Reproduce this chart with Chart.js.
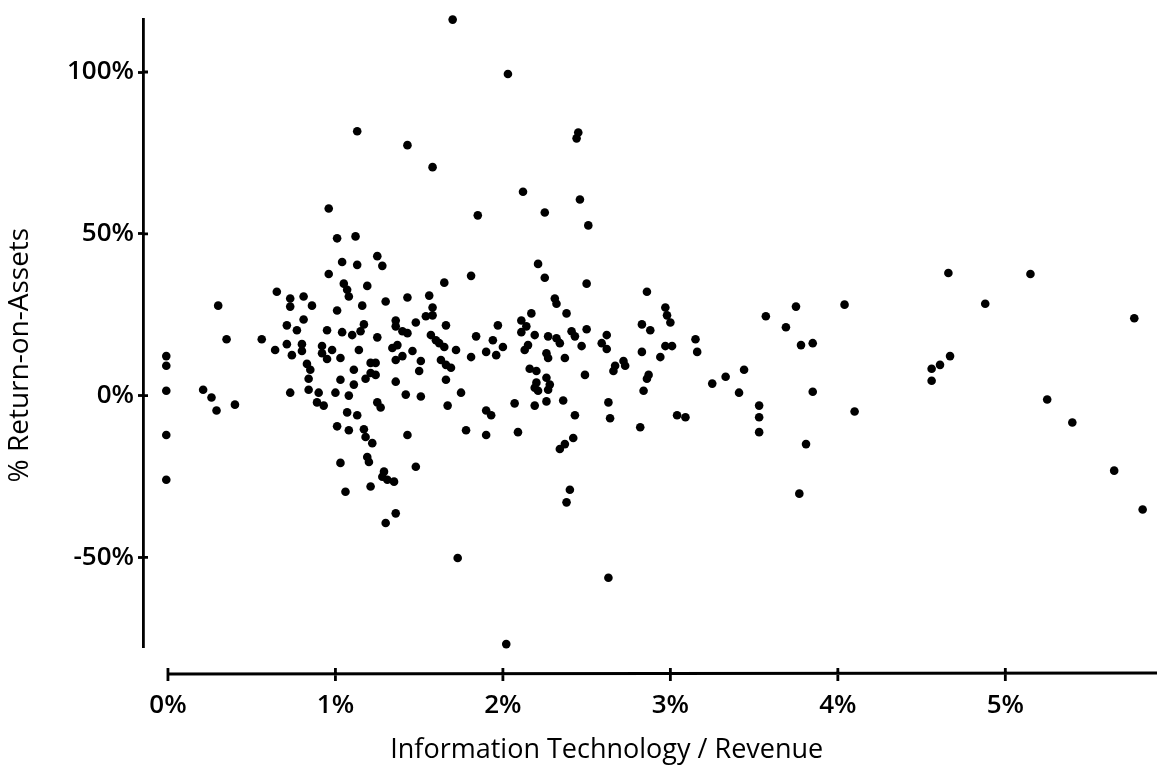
<!DOCTYPE html>
<html>
<head>
<meta charset="utf-8">
<script src="https://cdn.jsdelivr.net/npm/chart.js@4.4.1/dist/chart.umd.min.js"></script>
<style>
  html, body { margin: 0; padding: 0; background: #fff; }
</style>
</head>
<body>
<canvas id="chart" width="1157" height="776"></canvas>
<script>
// IT spend as % of revenue (x) and return on assets in % (y) in bands
const lowItX = [-0.01, -0.01, -0.01, -0.01, -0.01, 0.21, 0.26, 0.29, 0.40, 0.30, 0.35, 0.56, 0.64, 0.65, 0.73, 0.73, 0.81, 0.86, 0.81, 0.71,
  0.77, 0.71, 0.80, 0.80, 0.74, 0.83, 0.85, 0.84, 0.73, 0.84, 0.90, 0.89, 0.93, 0.96, 0.95, 0.92, 0.92, 0.95, 0.98, 0.96];
const lowItY = [12.2, 9.2, 1.5, -12.2, -26.0, 1.8, -0.6, -4.6, -2.8, 27.8, 17.4, 17.4, 14.1, 32.1, 30.0, 27.5, 30.6, 27.8, 23.5, 21.7,
  20.2, 15.9, 15.9, 13.8, 12.5, 9.8, 8.0, 5.2, 0.9, 1.8, 0.9, -2.1, -3.1, 37.6, 20.2, 15.3, 13.1, 11.3, 14.1, 57.8];

const midItX = [1.04, 1.13, 1.25, 1.28, 1.05, 1.07, 1.08, 1.19, 1.01, 1.16, 1.30, 1.04, 1.10, 1.17, 1.15, 1.03, 1.14, 1.25, 1.11, 1.03,
  1.11, 1.21, 1.24, 1.21, 1.24, 1.18, 1.00, 1.08, 1.07, 1.13, 1.01, 1.08, 1.17, 1.18, 1.22, 1.25, 1.27, 1.36, 1.36, 1.40,
  1.43, 1.48, 1.54, 1.58, 1.58, 1.34, 1.37, 1.36, 1.40, 1.46, 1.51, 1.50, 1.43, 1.56, 1.65, 1.81, 1.66, 1.57, 1.60, 1.62,
  1.65, 1.63, 1.66, 1.69, 1.72, 1.66, 1.36, 1.42, 1.51, 1.67, 1.75, 1.81, 1.84, 1.90, 1.96, 1.94, 1.97, 1.90, 1.93, 1.78,
  1.90, 1.43, 1.19, 1.20, 1.03, 1.48, 1.29, 1.28, 1.31, 1.35, 1.06, 1.21, 1.36, 1.30, 1.73, 1.70, 1.13, 1.43, 1.58, 1.85,
  1.01, 1.12];
const midItY = [41.3, 40.4, 43.1, 40.1, 34.6, 32.7, 30.6, 33.9, 26.3, 27.8, 29.1, 19.6, 18.7, 22.0, 19.9, 11.6, 14.1, 18.0, 8.0, 4.9,
  3.4, 10.1, 10.1, 7.0, 6.4, 5.2, 0.9, 0.0, -5.2, -6.1, -9.5, -10.7, -10.4, -12.8, -14.7, -2.1, -3.7, 23.2, 21.4, 19.9,
  19.3, 22.6, 24.5, 27.2, 24.8, 14.7, 15.6, 11.0, 12.2, 13.8, 10.7, 7.6, 30.3, 30.9, 34.9, 37.0, 21.7, 18.7, 17.1, 16.2,
  15.0, 11.0, 9.5, 8.6, 14.1, 4.9, 4.3, 0.3, -0.3, -3.1, 0.9, 11.9, 18.3, 13.5, 12.5, 17.1, 21.7, -4.6, -6.1, -10.7,
  -12.2, -12.2, -19.0, -20.5, -20.8, -22.0, -23.5, -25.1, -26.0, -26.6, -29.7, -28.1, -36.4, -39.4, -50.2, 116.2, 81.7, 77.4, 70.6, 55.7,
  48.6, 49.2];

const highItX = [2.03, 2.45, 2.44, 2.12, 2.46, 2.25, 2.51, 2.21, 2.25, 2.50, 2.86, 2.31, 2.32, 2.17, 2.38, 2.97, 2.98, 2.83, 2.88, 2.11,
  2.14, 2.11, 2.50, 2.00, 2.19, 2.15, 2.13, 2.27, 2.32, 2.34, 2.41, 2.43, 2.47, 2.59, 2.62, 2.62, 2.26, 2.27, 2.37, 2.49,
  2.67, 2.66, 2.72, 2.73, 2.83, 2.94, 2.97, 2.87, 2.86, 2.16, 2.20, 2.20, 2.19, 2.21, 2.26, 2.28, 2.27, 2.07, 2.19, 2.26,
  2.36, 2.63, 2.64, 2.43, 2.84, 2.82, 2.09, 2.42, 2.37, 2.34, 2.40, 2.38, 2.63, 2.02];
const highItY = [99.4, 81.3, 79.5, 63.0, 60.6, 56.6, 52.6, 40.7, 36.4, 34.6, 32.1, 30.0, 28.4, 25.4, 25.4, 27.2, 24.8, 22.0, 20.2, 23.2,
  21.4, 19.6, 20.5, 15.0, 18.7, 15.6, 14.1, 18.3, 17.7, 16.2, 19.9, 18.3, 15.3, 16.2, 18.7, 14.4, 13.1, 11.6, 11.6, 6.4,
  9.2, 7.6, 10.7, 9.2, 13.5, 11.9, 15.3, 6.4, 5.2, 8.3, 7.6, 4.0, 2.4, 1.5, 5.5, 3.4, 1.8, -2.4, -3.1, -1.8,
  -1.5, -2.1, -7.0, -6.1, 1.5, -9.8, -11.3, -13.1, -15.0, -16.5, -29.1, -33.0, -56.3, -76.8];

const topItX = [3.00, 3.01, 3.15, 3.16, 3.04, 3.09, 3.25, 3.33, 3.44, 3.41, 3.53, 3.53, 3.53, 3.75, 3.57, 3.69, 3.78, 3.85, 3.85, 3.81,
  3.77, 4.04, 4.66, 5.15, 4.88, 5.77, 4.10, 4.67, 4.61, 4.56, 4.56, 5.25, 5.40, 5.65, 5.82, 5.17];
const topItY = [22.6, 15.3, 17.4, 13.5, -6.1, -6.7, 3.7, 5.8, 8.0, 0.9, -3.1, -6.7, -11.3, 27.5, 24.5, 21.1, 15.6, 16.2, 1.2, -15.0,
  -30.3, 28.1, 37.9, 37.6, 28.4, 23.9, -4.9, 12.2, 9.5, 8.3, 4.6, -1.2, -8.3, -23.2, -35.2, -79.2];

const xTicks = [0, 1, 2, 3, 4, 5];
const yTicks = [-50, 0, 50, 100];
const xTitle = 'Information Technology / Revenue';
const yTitle = '% Return-on-Assets';

const toPoints = (xs, ys) => xs.map((x, i) => ({ x, y: ys[i] }));
const points = [
  ...toPoints(lowItX, lowItY),
  ...toPoints(midItX, midItY),
  ...toPoints(highItX, highItY),
  ...toPoints(topItX, topItY)
];

const FONT = "'Open Sans', 'DejaVu Sans', sans-serif";

// the x axis sits detached below the plot and starts at 0%, so draw it from the scale
const detachedAxes = {
  id: 'detachedAxes',
  afterDraw(chart) {
    const { ctx, scales: { x, y } } = chart;
    const axisY = y.bottom + 27;
    ctx.save();
    ctx.strokeStyle = '#000';
    ctx.lineWidth = 2.8;
    ctx.beginPath();
    ctx.moveTo(x.getPixelForValue(xTicks[0]), axisY);
    ctx.lineTo(chart.width, axisY - 1);
    xTicks.forEach(t => {
      const px = x.getPixelForValue(t);
      ctx.moveTo(px, axisY - 6);
      ctx.lineTo(px, axisY + 7);
    });
    // little stubs of the y ticks inside the plot
    yTicks.forEach(t => {
      const py = y.getPixelForValue(t);
      ctx.moveTo(x.left, py);
      ctx.lineTo(x.left + 5, py);
    });
    ctx.stroke();

    ctx.fillStyle = '#000';
    ctx.textAlign = 'center';
    ctx.textBaseline = 'middle';
    ctx.font = '27px ' + FONT;
    ctx.fillText(xTitle, x.getPixelForValue(2.62), 750);

    ctx.translate(20, y.getPixelForValue(12.5));
    ctx.rotate(-Math.PI / 2);
    ctx.font = '28px ' + FONT;
    ctx.fillText(yTitle, 0, 0);
    ctx.restore();
  }
};

new Chart(document.getElementById('chart'), {
  type: 'scatter',
  data: {
    datasets: [{
      data: points,
      backgroundColor: '#000',
      borderWidth: 0,
      pointRadius: 4.3,
      pointHoverRadius: 4.3,
      clip: false
    }]
  },
  options: {
    responsive: false,
    animation: false,
    events: [],
    layout: { padding: { top: 13, right: 0, bottom: 0, left: 0 } },
    plugins: { legend: { display: false }, tooltip: { enabled: false } },
    scales: {
      x: {
        type: 'linear',
        min: -0.149,
        max: 5.88,
        afterFit: s => { s.height = 129; },
        afterBuildTicks: s => { s.ticks = xTicks.map(v => ({ value: v })); },
        grid: { display: false, drawTicks: false },
        border: { display: false },
        ticks: {
          padding: 43,
          color: '#000',
          font: { family: FONT, size: 26, weight: '600' },
          callback: v => v + '%'
        }
      },
      y: {
        type: 'linear',
        min: -77.7,
        max: 116.2,
        afterFit: s => { s.width = 143; },
        afterBuildTicks: s => { s.ticks = yTicks.map(v => ({ value: v })); },
        grid: { drawOnChartArea: false, drawTicks: true, tickLength: 5, tickWidth: 2.8, color: '#000' },
        border: { display: true, color: '#000', width: 2.8 },
        ticks: {
          padding: 4,
          color: '#000',
          font: { family: FONT, size: 26, weight: '600' },
          callback: v => v + '%'
        }
      }
    }
  },
  plugins: [detachedAxes]
});
</script>
</body>
</html>
